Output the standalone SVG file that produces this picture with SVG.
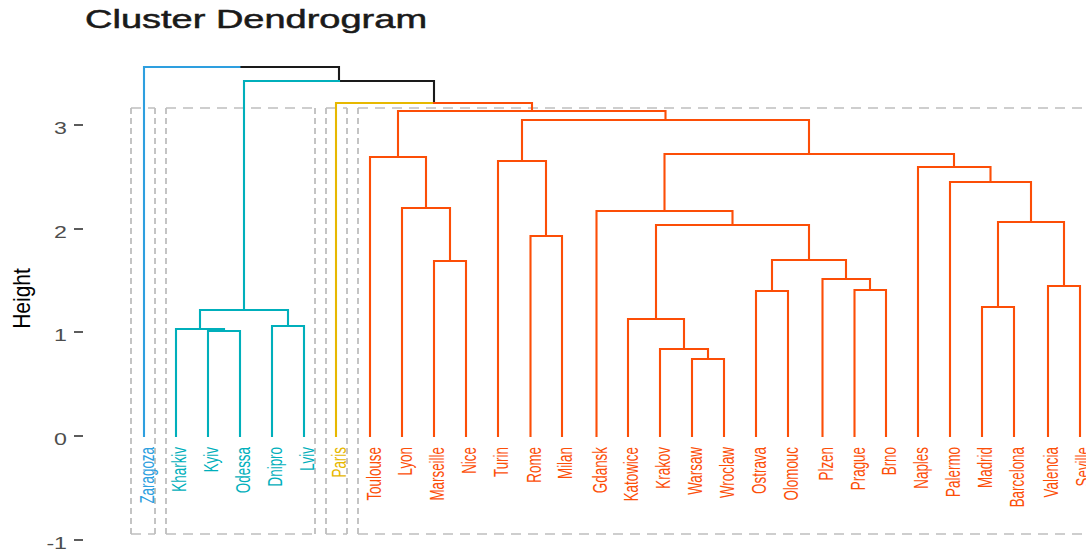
<svg xmlns="http://www.w3.org/2000/svg" width="1086" height="551" viewBox="0 0 1086 551">
<style>
text{font-family:"Liberation Sans",Arial,sans-serif}
.br{fill:none;stroke-width:2.1;stroke-linecap:square}
.o{stroke:#FC4E07}.c{stroke:#00AFBB}.b{stroke:#2E9FDF}.y{stroke:#E7B800}.k{stroke:#1a1a1a}
.lab{font-size:13.4px;text-anchor:end}
.lo{fill:#FC4E07}.lc{fill:#00AFBB}.lb{fill:#2E9FDF}.ly{fill:#E7B800}
.rh{stroke:#BEBEBE;stroke-width:1.6;stroke-dasharray:10 7;fill:none}
.rv{stroke:#BEBEBE;stroke-width:1.8;stroke-dasharray:6 4;fill:none}
.tick{stroke:#333;stroke-width:1.6}
.ax{font-size:16px;fill:#4D4D4D;text-anchor:end}
</style>
<rect width="1086" height="551" fill="#fff"/>
<g id="title"><text transform="translate(85,28) scale(1.52,1)" font-size="25" fill="#1a1a1a" stroke="#1a1a1a" stroke-width="0.5">Cluster Dendrogram</text></g>
<g id="axis">
<line class="tick" x1="74" y1="125" x2="83" y2="125"/>
<line class="tick" x1="74" y1="229" x2="83" y2="229"/>
<line class="tick" x1="74" y1="332" x2="83" y2="332"/>
<line class="tick" x1="74" y1="436" x2="83" y2="436"/>
<line class="tick" x1="74" y1="540" x2="83" y2="540"/>
<text class="ax" transform="translate(67,133.5) scale(1.45,1)">3</text>
<text class="ax" transform="translate(67,237.5) scale(1.45,1)">2</text>
<text class="ax" transform="translate(67,340.5) scale(1.45,1)">1</text>
<text class="ax" transform="translate(67,444.5) scale(1.45,1)">0</text>
<text class="ax" transform="translate(67,548.5) scale(1.45,1)">-1</text>
<text transform="translate(29.6,298.5) scale(1.17,1) rotate(-90)" font-size="21" fill="#000" text-anchor="middle">Height</text>
</g>
<g id="rects">
<line class="rh" x1="131" y1="108" x2="155" y2="108"/><line class="rh" x1="131" y1="534" x2="155" y2="534"/>
<line class="rv" x1="131" y1="108" x2="131" y2="534"/><line class="rv" x1="155" y1="108" x2="155" y2="534"/>
<line class="rh" x1="166" y1="108" x2="315" y2="108"/><line class="rh" x1="166" y1="534" x2="315" y2="534"/>
<line class="rv" x1="166" y1="108" x2="166" y2="534"/><line class="rv" x1="315" y1="108" x2="315" y2="534"/>
<line class="rh" x1="326" y1="108" x2="347" y2="108"/><line class="rh" x1="326" y1="534" x2="347" y2="534"/>
<line class="rv" x1="326" y1="108" x2="326" y2="534"/><line class="rv" x1="347" y1="108" x2="347" y2="534"/>
<line class="rh" x1="358" y1="108" x2="1100" y2="108"/><line class="rh" x1="358" y1="534" x2="1100" y2="534"/>
<line class="rv" x1="358" y1="108" x2="358" y2="534"/>
</g>
<g id="connectors">
<path class="br b" d="M144 436V67H241.5"/>
<path class="br k" d="M241.5 67H339V81H434V103"/>
<path class="br c" d="M339 81H244V310"/>
<path class="br y" d="M434 103H336V436"/>
<path class="br o" d="M434 103H532V111"/>
<path class="br c" d="M200 329V310H288V326"/>
<path class="br c" d="M176 436V329H224V331"/>
<path class="br c" d="M208 436V331H240V436"/>
<path class="br c" d="M272 436V326H304V436"/>
<path class="br o" d="M398 157V111H665.5V120"/>
<path class="br o" d="M370 436V157H426V208"/>
<path class="br o" d="M402 436V208H450V261"/>
<path class="br o" d="M434 436V261H466V436"/>
<path class="br o" d="M522 161V120H809V154"/>
<path class="br o" d="M498 436V161H546V236"/>
<path class="br o" d="M530.5 436V236H562V436"/>
<path class="br o" d="M664.5 211V154H954V167"/>
<path class="br o" d="M596.5 436V211H732.5V225"/>
<path class="br o" d="M656 319V225H809V260"/>
<path class="br o" d="M628 436V319H684V349"/>
<path class="br o" d="M660 436V349H708V359"/>
<path class="br o" d="M692 436V359H724V436"/>
<path class="br o" d="M772 291V260H846V279"/>
<path class="br o" d="M756 436V291H788V436"/>
<path class="br o" d="M822.5 436V279H870V290"/>
<path class="br o" d="M854.5 436V290H886V436"/>
<path class="br o" d="M918 436V167H990.5V182"/>
<path class="br o" d="M950 436V182H1031V222"/>
<path class="br o" d="M998 307V222H1064V286"/>
<path class="br o" d="M982 436V307H1014V436"/>
<path class="br o" d="M1048 436V286H1080V436"/>
</g>
<g id="leaf-Zaragoza"><text class="lab lb" transform="translate(154,447) scale(1.55,1) rotate(-90)">Zaragoza</text></g>
<g id="leaf-Kharkiv"><text class="lab lc" transform="translate(186,447) scale(1.55,1) rotate(-90)">Kharkiv</text></g>
<g id="leaf-Kyiv"><text class="lab lc" transform="translate(218,447) scale(1.55,1) rotate(-90)">Kyiv</text></g>
<g id="leaf-Odessa"><text class="lab lc" transform="translate(250,447) scale(1.55,1) rotate(-90)">Odessa</text></g>
<g id="leaf-Dnipro"><text class="lab lc" transform="translate(282,447) scale(1.55,1) rotate(-90)">Dnipro</text></g>
<g id="leaf-Lviv"><text class="lab lc" transform="translate(314,447) scale(1.55,1) rotate(-90)">Lviv</text></g>
<g id="leaf-Paris"><text class="lab ly" transform="translate(346,447) scale(1.55,1) rotate(-90)">Paris</text></g>
<g id="leaf-Toulouse"><text class="lab lo" transform="translate(380.5,447) scale(1.55,1) rotate(-90)">Toulouse</text></g>
<g id="leaf-Lyon"><text class="lab lo" transform="translate(412,447) scale(1.55,1) rotate(-90)">Lyon</text></g>
<g id="leaf-Marseille"><text class="lab lo" transform="translate(444,447) scale(1.55,1) rotate(-90)">Marseille</text></g>
<g id="leaf-Nice"><text class="lab lo" transform="translate(476,447) scale(1.55,1) rotate(-90)">Nice</text></g>
<g id="leaf-Turin"><text class="lab lo" transform="translate(508,447) scale(1.55,1) rotate(-90)">Turin</text></g>
<g id="leaf-Rome"><text class="lab lo" transform="translate(540.5,447) scale(1.55,1) rotate(-90)">Rome</text></g>
<g id="leaf-Milan"><text class="lab lo" transform="translate(572,447) scale(1.55,1) rotate(-90)">Milan</text></g>
<g id="leaf-Gdansk"><text class="lab lo" transform="translate(606.5,447) scale(1.55,1) rotate(-90)">Gdansk</text></g>
<g id="leaf-Katowice"><text class="lab lo" transform="translate(638,447) scale(1.55,1) rotate(-90)">Katowice</text></g>
<g id="leaf-Krakov"><text class="lab lo" transform="translate(670,447) scale(1.55,1) rotate(-90)">Krakov</text></g>
<g id="leaf-Warsaw"><text class="lab lo" transform="translate(702,447) scale(1.55,1) rotate(-90)">Warsaw</text></g>
<g id="leaf-Wroclaw"><text class="lab lo" transform="translate(734,447) scale(1.55,1) rotate(-90)">Wroclaw</text></g>
<g id="leaf-Ostrava"><text class="lab lo" transform="translate(766,447) scale(1.55,1) rotate(-90)">Ostrava</text></g>
<g id="leaf-Olomouc"><text class="lab lo" transform="translate(798,447) scale(1.55,1) rotate(-90)">Olomouc</text></g>
<g id="leaf-Plzen"><text class="lab lo" transform="translate(832.5,447) scale(1.55,1) rotate(-90)">Plzen</text></g>
<g id="leaf-Prague"><text class="lab lo" transform="translate(864.5,447) scale(1.55,1) rotate(-90)">Prague</text></g>
<g id="leaf-Brno"><text class="lab lo" transform="translate(896,447) scale(1.55,1) rotate(-90)">Brno</text></g>
<g id="leaf-Naples"><text class="lab lo" transform="translate(928,447) scale(1.55,1) rotate(-90)">Naples</text></g>
<g id="leaf-Palermo"><text class="lab lo" transform="translate(960,447) scale(1.55,1) rotate(-90)">Palermo</text></g>
<g id="leaf-Madrid"><text class="lab lo" transform="translate(992,447) scale(1.55,1) rotate(-90)">Madrid</text></g>
<g id="leaf-Barcelona"><text class="lab lo" transform="translate(1024,447) scale(1.55,1) rotate(-90)">Barcelona</text></g>
<g id="leaf-Valencia"><text class="lab lo" transform="translate(1058,447) scale(1.55,1) rotate(-90)">Valencia</text></g>
<g id="leaf-Seville"><text class="lab lo" transform="translate(1090,447) scale(1.55,1) rotate(-90)">Seville</text></g>
</svg>
